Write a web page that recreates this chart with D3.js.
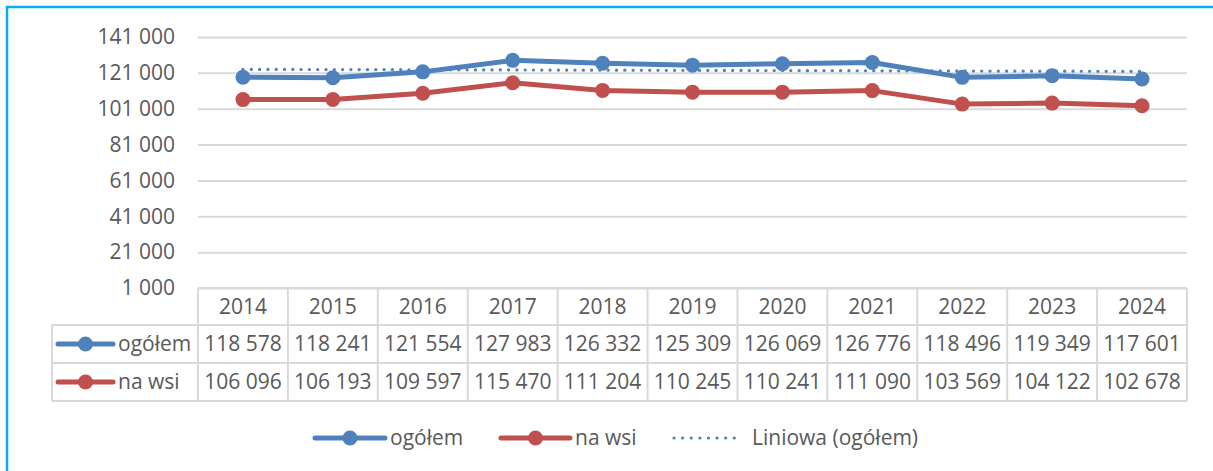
<!DOCTYPE html>
<html>
<head>
<meta charset="utf-8">
<script src="https://cdn.jsdelivr.net/npm/d3@7"></script>
<style>
  body { margin: 0; background: #fff; }
  text { font-family: "Open Sans", "Liberation Sans", sans-serif; fill: #595959; }
</style>
</head>
<body>
<div id="chart"></div>
<script>
var years = ["2014", "2015", "2016", "2017", "2018", "2019", "2020", "2021", "2022", "2023", "2024"];
var ogolem = [118578, 118241, 121554, 127983, 126332, 125309, 126069, 126776, 118496, 119349, 117601];
var naWsi = [106096, 106193, 109597, 115470, 111204, 110245, 110241, 111090, 103569, 104122, 102678];
var yTicks = [1000, 21000, 41000, 61000, 81000, 101000, 121000, 141000];
var seriesNames = ["ogółem", "na wsi", "Liniowa (ogółem)"];

var width = 1213,
	height = 471;

var blue = "#4F81BD",
	red = "#C0504D",
	grid = "#D9D9D9",
	fontSize = 21;

var plot = { left: 198, right: 1187, top: 37, bottom: 288 };
var rows = [288, 325, 363, 401];
var labelLeft = 52;

var pl = d3.formatLocale({ decimal: ",", thousands: " ", grouping: [3], currency: ["", " zł"] });
var fmt = pl.format(",d");

var x = d3.scaleBand()
	.domain(years)
	.range([plot.left, plot.right])
	.padding(0);

var y = d3.scaleLinear()
	.domain([1000, 141000])
	.range([plot.bottom, plot.top]);

var svg = d3.select("#chart").append("svg")
	.attr("width", width)
	.attr("height", height);

// outer frame (only left and top edges visible)
svg.append("path")
	.attr("d", "M7," + height + "V7H" + width)
	.attr("fill", "none")
	.attr("stroke", "#00B0F0")
	.attr("stroke-width", 2.5);

// y axis with gridlines
var yAxis = svg.append("g")
	.attr("transform", "translate(" + plot.left + ",0)")
	.call(d3.axisLeft(y)
		.tickValues(yTicks)
		.tickFormat(fmt)
		.tickSize(-(plot.right - plot.left))
		.tickPadding(23));

yAxis.select(".domain").remove();
yAxis.selectAll(".tick line")
	.attr("stroke", grid)
	.attr("stroke-width", 2);
yAxis.selectAll(".tick text")
	.attr("font-size", fontSize)
	.style("fill", "#595959");

// data table
var table = svg.append("g");

table.append("line")
	.attr("x1", plot.left).attr("x2", plot.right)
	.attr("y1", rows[0]).attr("y2", rows[0]);
rows.slice(1).forEach(function(r) {
	table.append("line")
		.attr("x1", labelLeft).attr("x2", plot.right)
		.attr("y1", r).attr("y2", r);
});
table.append("line")
	.attr("x1", labelLeft).attr("x2", labelLeft)
	.attr("y1", rows[1]).attr("y2", rows[3]);
years.forEach(function(yr) {
	table.append("line")
		.attr("x1", x(yr)).attr("x2", x(yr))
		.attr("y1", rows[0]).attr("y2", rows[3]);
});
table.append("line")
	.attr("x1", plot.right).attr("x2", plot.right)
	.attr("y1", rows[0]).attr("y2", rows[3]);

table.selectAll("line")
	.attr("stroke", grid)
	.attr("stroke-width", 2);

function rowMid(i) { return (rows[i] + rows[i + 1]) / 2; }

table.selectAll("text.year")
	.data(years)
  .enter().append("text")
	.attr("x", function(d) { return x(d) + x.bandwidth() / 2; })
	.attr("y", rowMid(0))
	.attr("dy", "0.35em")
	.attr("text-anchor", "middle")
	.attr("font-size", fontSize)
	.text(function(d) { return d; });

[ogolem, naWsi].forEach(function(vals, i) {
	table.selectAll("text.v" + i)
		.data(vals)
	  .enter().append("text")
		.attr("x", function(d, j) { return x(years[j]) + x.bandwidth() / 2; })
		.attr("y", rowMid(i + 1))
		.attr("dy", "0.35em")
		.attr("text-anchor", "middle")
		.attr("font-size", fontSize)
		.text(function(d) { return fmt(d); });
});

// legend key: line with a marker in the middle, then the label
function lineKey(g, x0, len, yc, color, label) {
	g.append("line")
		.attr("x1", x0).attr("x2", x0 + len)
		.attr("y1", yc).attr("y2", yc)
		.attr("stroke", color)
		.attr("stroke-width", 5)
		.attr("stroke-linecap", "round");
	g.append("circle")
		.attr("cx", x0 + len / 2).attr("cy", yc)
		.attr("r", 7.5)
		.attr("fill", color);
	g.append("text")
		.attr("x", x0 + len + 5).attr("y", yc)
		.attr("dy", "0.35em")
		.attr("font-size", fontSize)
		.text(label);
}

lineKey(table, 58, 55, rowMid(1), blue, seriesNames[0]);
lineKey(table, 58, 55, rowMid(2), red, seriesNames[1]);

// linear trendline for ogółem (Excel "Liniowa")
var n = ogolem.length,
	mx = d3.mean(ogolem, function(d, i) { return i; }),
	my = d3.mean(ogolem),
	sxy = d3.sum(ogolem, function(d, i) { return (i - mx) * (d - my); }),
	sxx = d3.sum(ogolem, function(d, i) { return (i - mx) * (i - mx); }),
	slope = sxy / sxx,
	icpt = my - slope * mx;

var cx = function(i) { return x(years[i]) + x.bandwidth() / 2; };

svg.append("line")
	.attr("x1", cx(0)).attr("x2", cx(n - 1))
	.attr("y1", y(icpt)).attr("y2", y(icpt + slope * (n - 1)))
	.attr("stroke", blue)
	.attr("stroke-width", 3.2)
	.attr("stroke-linecap", "round")
	.attr("stroke-dasharray", "0.1 8.2");

// series lines
var line = d3.line()
	.x(function(d, i) { return cx(i); })
	.y(function(d) { return y(d); });

[[naWsi, red], [ogolem, blue]].forEach(function(s) {
	svg.append("path")
		.datum(s[0])
		.attr("d", line)
		.attr("fill", "none")
		.attr("stroke", s[1])
		.attr("stroke-width", 5)
		.attr("stroke-linejoin", "round");
	svg.selectAll(null)
		.data(s[0])
	  .enter().append("circle")
		.attr("cx", function(d, i) { return cx(i); })
		.attr("cy", function(d) { return y(d); })
		.attr("r", 7.5)
		.attr("fill", s[1]);
});

// legend at the bottom
var legend = svg.append("g");
var ly = 438;
lineKey(legend, 315, 70, ly, blue, seriesNames[0]);
lineKey(legend, 501, 69, ly, red, seriesNames[1]);
legend.append("line")
	.attr("x1", 674).attr("x2", 742)
	.attr("y1", ly).attr("y2", ly)
	.attr("stroke", blue)
	.attr("stroke-width", 3.2)
	.attr("stroke-linecap", "round")
	.attr("stroke-dasharray", "0.1 8.5");
legend.append("text")
	.attr("x", 752).attr("y", ly)
	.attr("dy", "0.35em")
	.attr("font-size", fontSize)
	.text(seriesNames[2]);
</script>
</body>
</html>
